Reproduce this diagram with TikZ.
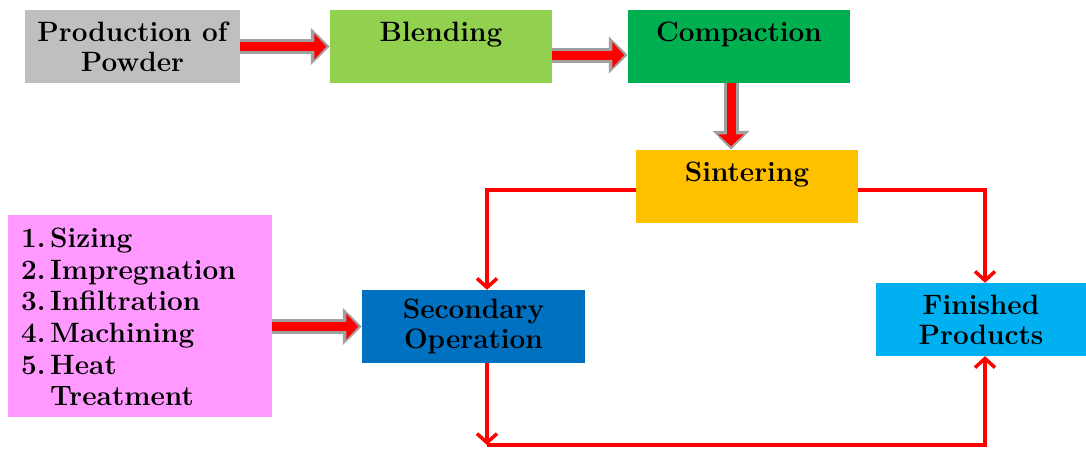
\documentclass[tikz,border=0pt]{standalone}
\usepackage{fontspec}
\usetikzlibrary{arrows.meta,calc}
\definecolor{boxgray}{RGB}{191,191,191}
\definecolor{lgreen}{RGB}{146,208,80}
\definecolor{dgreen}{RGB}{0,176,80}
\definecolor{orng}{RGB}{255,192,0}
\definecolor{dblue}{RGB}{0,112,192}
\definecolor{lblue}{RGB}{0,176,240}
\definecolor{pnk}{RGB}{255,153,255}
\definecolor{agray}{RGB}{160,160,160}
\begin{document}
\begin{tikzpicture}[x=1pt,y=-1pt,
  box/.style={draw=none,rectangle,inner sep=0pt,align=center,
    font=\fontsize{28}{30}\selectfont\bfseries},
  lbl/.style={anchor=base,inner sep=0pt,font=\fontsize{28}{30}\selectfont\bfseries},
  blkout/.style={line width=15pt,agray,-{Triangle[length=19pt,width=36pt]}},
  blkin/.style={line width=9pt,red,shorten >=3.5pt,-{Triangle[length=12pt,width=25pt]}},
  conn/.style={line width=3.5pt,red,-{Straight Barb[length=9pt,width=20pt]}}]
\useasboundingbox (0,0) rectangle (1086,450);
% boxes
\node[box,fill=boxgray,minimum width=215,minimum height=73] (prod) at (132.5,46.5) {Production of\\Powder};
\node[box,fill=lgreen,minimum width=222,minimum height=73] (blend) at (441,46.5) {};
\node[lbl] (blendt) at ([yshift=-32pt]blend.north) {Blending};
\node[box,fill=dgreen,minimum width=222,minimum height=73] (comp) at (739,46.5) {};
\node[lbl] (compt) at ([yshift=-32pt]comp.north) {Compaction};
\node[box,fill=orng,minimum width=222,minimum height=73] (sint) at (747,186.5) {};
\node[lbl] (sintt) at ([yshift=-32pt]sint.north) {Sintering};
\node[box,fill=dblue,minimum width=223,minimum height=73] (sec) at (473.5,326.5) {Secondary\\Operation};
\node[box,fill=lblue,minimum width=210,minimum height=73] (fin) at (981,319.5) {Finished\\Products};
\node[box,fill=pnk,minimum width=264,minimum height=202] (ops) at (140,316) {};
\node[anchor=north west,inner sep=0pt,align=left,
  font=\fontsize{28}{31.6}\selectfont\bfseries] (opst) at (21,228)
  {\makebox[29pt][l]{1.}Sizing\\
   \makebox[29pt][l]{2.}Impregnation\\
   \makebox[29pt][l]{3.}Infiltration\\
   \makebox[29pt][l]{4.}Machining\\
   \makebox[29pt][l]{5.}Heat\\
   \makebox[29pt][l]{}Treatment};
% block arrows
\draw[blkout] (prod.east) -- (blend.west);
\draw[blkin] (prod.east) -- (blend.west);
\draw[blkout] ([yshift=-8.5pt]blend.east) -- ([yshift=-8.5pt]comp.west);
\draw[blkin] ([yshift=-8.5pt]blend.east) -- ([yshift=-8.5pt]comp.west);
\draw[blkout] ([xshift=-8pt]comp.south) -- ([xshift=-8pt]comp.south |- sint.north);
\draw[blkin] ([xshift=-8pt]comp.south) -- ([xshift=-8pt]comp.south |- sint.north);
\draw[blkout] (sec.west -| ops.east) -- (sec.west);
\draw[blkin] (sec.west -| ops.east) -- (sec.west);
% red connectors
\coordinate (corner) at (487,445);
\draw[conn] ([yshift=-3.5pt]sint.west) -| ([xshift=13.5pt]sec.north);
\draw[conn] ([yshift=-3.5pt]sint.east) -| ([xshift=4pt]fin.north);
\draw[conn] ([xshift=13.5pt]sec.south) -- (corner);
\draw[conn] (corner) -| ([xshift=4pt]fin.south);
\end{tikzpicture}
\end{document}
